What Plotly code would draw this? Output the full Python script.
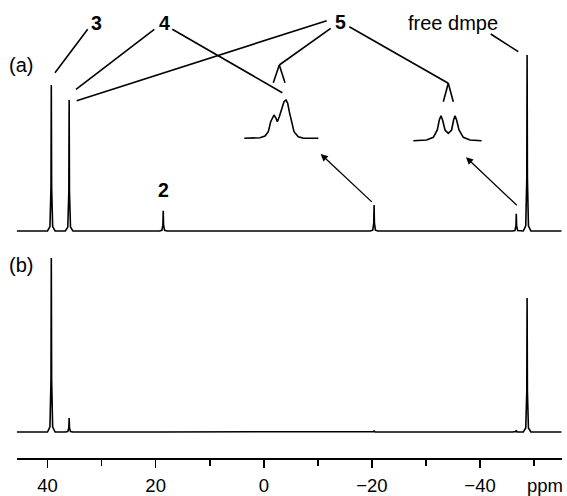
import plotly.graph_objects as go

W, H = 567, 496

# ---- data -------------------------------------------------------------
ppm_range = [45.7, -55.1]
major_ticks = [40, 20, 0, -20, -40]
major_labels = ["40", "20", "0", "\u221220", "\u221240"]
minor_ticks = [30, 10, -10, -30, -50]

peak_ppm = [39.3, 36.0, 18.6, -20.4, -46.7, -48.7]
height_a = [83.0, 74.4, 11.5, 14.8, 9.8, 100.0]
height_b = [98.9, 8.0, 0.0, 0.8, 1.0, 76.1]

# expanded multiplets (relative shift, relative intensity)
exp1_shift = [0, 15.7, 20.7, 24.0, 26.4, 28.4, 29.7, 31.7, 33.0, 35.0, 37.4, 39.7, 41.7, 43.4, 45.0, 47.4, 49.7, 54.0, 59.0, 74.0]
exp1_int = [0, 0.6, 2.3, 6.6, 16.6, 21.6, 23.3, 20.0, 16.6, 21.6, 30.0, 36.6, 38.3, 35.0, 26.6, 15.0, 6.6, 1.6, 0, 0]
exp2_shift = [0, 13.3, 20.0, 24.0, 26.0, 27.7, 29.3, 31.7, 35.0, 38.3, 40.3, 41.7, 43.3, 45.7, 50.0, 56.7, 68.3]
exp2_int = [0, 0.7, 3.4, 10.7, 20.7, 25.0, 20.7, 10.7, 7.4, 10.7, 20.7, 25.0, 20.7, 10.7, 3.4, 0.7, 0]

# ---- helpers ----------------------------------------------------------
shape_off = [0.7, 0.25, 0.06, 0.0, -0.06, -0.25, -0.7]
shape_frac = [0, 0.03, 0.3, 1, 0.3, 0.03, 0]


def spectrum(heights):
    xs, ys = [ppm_range[0]], [0]
    for p, h in sorted(zip(peak_ppm, heights), reverse=True):
        for o, f in zip(shape_off, shape_frac):
            xs.append(p + o)
            ys.append(h * f)
    xs.append(ppm_range[1])
    ys.append(0)
    return xs, ys


def P(x, y):
    return x / W, 1 - y / H


FONT = "Liberation Sans, Arial, sans-serif"
LW = 1.6
FS = 20
FSB = 19.5
FST = 18.5

fig = go.Figure()
xa, ya = spectrum(height_a)
xb, yb = spectrum(height_b)
fig.add_trace(go.Scatter(x=xa, y=ya, mode="lines", line=dict(color="black", width=LW),
                         xaxis="x", yaxis="y", hoverinfo="skip"))
fig.add_trace(go.Scatter(x=xb, y=yb, mode="lines", line=dict(color="black", width=LW),
                         xaxis="x", yaxis="y2", hoverinfo="skip"))
fig.add_trace(go.Scatter(x=exp1_shift, y=exp1_int, mode="lines", line=dict(color="black", width=LW),
                         xaxis="x3", yaxis="y3", hoverinfo="skip"))
fig.add_trace(go.Scatter(x=exp2_shift, y=exp2_int, mode="lines", line=dict(color="black", width=LW),
                         xaxis="x4", yaxis="y4", hoverinfo="skip"))

# main axis geometry (pixels)
x_left, x_right = 16.7, 561.7
base_a, scale = 231.0, 1.76
base_b = 432.0


def ydom(top_px, bot_px, base_px):
    dom = [1 - bot_px / H, 1 - top_px / H]
    rng = [(base_px - bot_px) / scale, (base_px - top_px) / scale]
    return dom, rng


dom_a, rng_a = ydom(0, 240, base_a)
dom_b, rng_b = ydom(245, 445, base_b)


def inset(px_left, px_right, px_base, pad=6, top=45):
    xd = [(px_left - pad) / W, (px_right + pad) / W]
    xr = [-pad, px_right - px_left + pad]
    yd = [1 - (px_base + pad) / H, 1 - (px_base - top) / H]
    yr = [-pad, top]
    return xd, xr, yd, yr


i1 = inset(244.3, 318.3, 138.3)
i2 = inset(413.3, 481.7, 140.7)

hidden = dict(visible=False, showgrid=False, zeroline=False, fixedrange=True)

fig.update_layout(
    width=W, height=H,
    margin=dict(l=0, r=0, t=0, b=0, autoexpand=False),
    paper_bgcolor="white", plot_bgcolor="rgba(0,0,0,0)",
    showlegend=False,
    font=dict(family=FONT, size=FS, color="black"),
    xaxis=dict(domain=[x_left / W, x_right / W], range=ppm_range, anchor="free",
               position=1 - 459 / H, showline=True, linecolor="black", linewidth=2,
               ticks="outside", ticklen=8, tickwidth=1.6, tickcolor="black",
               tickvals=major_ticks, ticktext=major_labels,
               minor=dict(tickvals=minor_ticks, ticks="outside", ticklen=6,
                          tickwidth=1.6, tickcolor="black"),
               showgrid=False, zeroline=False, ticklabelstandoff=2,
               tickfont=dict(family=FONT, size=FST), fixedrange=True),
    yaxis=dict(domain=dom_a, range=rng_a, **hidden),
    yaxis2=dict(domain=dom_b, range=rng_b, anchor="x", **hidden),
    xaxis3=dict(domain=i1[0], range=i1[1], anchor="y3", **hidden),
    yaxis3=dict(domain=i1[2], range=i1[3], anchor="x3", **hidden),
    xaxis4=dict(domain=i2[0], range=i2[1], anchor="y4", **hidden),
    yaxis4=dict(domain=i2[2], range=i2[3], anchor="x4", **hidden),
)

# ---- leader lines -----------------------------------------------------
segments = [
    [(87.7, 29.3), (55, 72.7)],
    [(154.3, 29.3), (76, 89.3)],
    [(172.3, 29.3), (282.3, 92.7)],
    [(326.7, 20.7), (76.7, 100.7)],
    [(330.7, 28.3), (279.3, 65)],
    [(349.3, 26.7), (448.3, 83.3)],
    [(490.7, 34), (518.3, 51.7)],
    # splitting marks
    [(273.3, 82.7), (279.3, 65)],
    [(279.3, 65), (285, 82.7)],
    [(443.3, 101.7), (448.3, 83.3)],
    [(448.3, 83.3), (453.3, 101.7)],
]
for (a, b) in segments:
    x0, y0 = P(*a)
    x1, y1 = P(*b)
    fig.add_shape(type="line", xref="paper", yref="paper", x0=x0, y0=y0, x1=x1, y1=y1,
                  line=dict(color="black", width=LW))

# ---- text labels ------------------------------------------------------
labels = [
    ("(a)", 21.0, 65, False, FS),
    ("(b)", 21.0, 265, False, FS),
    ("3", 96.7, 22.7, True, FSB),
    ("4", 164.3, 22.7, True, FSB),
    ("5", 340.0, 21.7, True, FSB),
    ("2", 163.3, 190.0, True, FSB),
    ("free dmpe", 453.3, 22.7, False, FS),
    ("ppm", 545.0, 485.5, False, FST),
]
for t, x, y, bold, fs in labels:
    px, py = P(x, y)
    fig.add_annotation(x=px, y=py, xref="paper", yref="paper", text=(f"<b>{t}</b>" if bold else t),
                       showarrow=False, xanchor="center", yanchor="middle",
                       font=dict(family=FONT, size=fs, color="black"))

# ---- arrows -----------------------------------------------------------
arrows = [((320.7, 154.0), (373.3, 203.3)), ((466.0, 157.3), (518.3, 206.7))]
for head, tail in arrows:
    hx, hy = P(*head)
    fig.add_annotation(x=hx, y=hy, xref="paper", yref="paper", text="",
                       showarrow=True, ax=tail[0] - head[0], ay=tail[1] - head[1],
                       arrowhead=2, arrowsize=1.1, arrowwidth=1.3, arrowcolor="black",
                       standoff=0, startstandoff=0)

fig.write_html("out.html", config={"displayModeBar": False, "staticPlot": True},
               post_script="document.body.style.margin='0px';")
